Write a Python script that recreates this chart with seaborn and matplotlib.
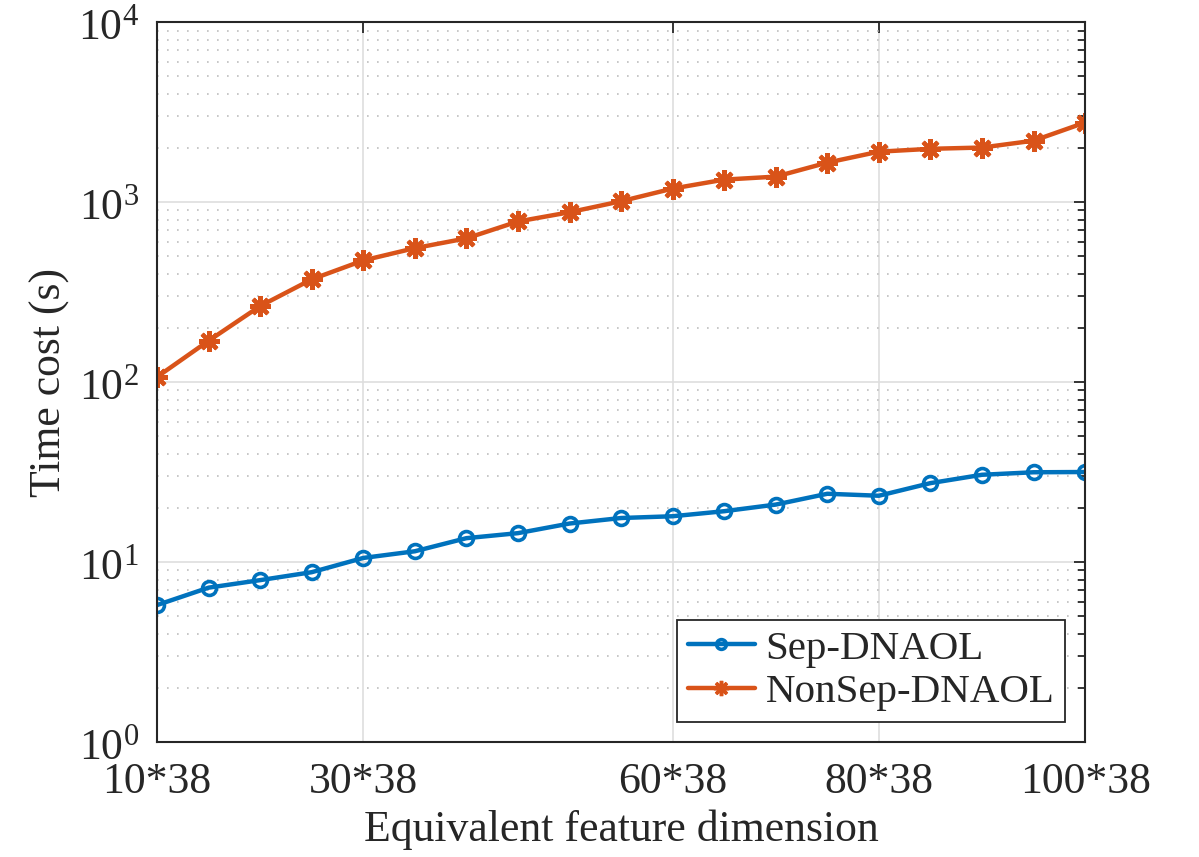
import numpy as np
import pandas as pd
import seaborn as sns
import matplotlib
matplotlib.use("Agg")
import matplotlib.pyplot as plt
import matplotlib.transforms as mtransforms
from matplotlib.ticker import LogLocator, NullFormatter, FixedLocator

# Data
dims = [10, 15, 20, 25, 30, 35, 40, 45, 50, 55, 60, 65, 70, 75, 80, 85, 90, 95, 100]
sep_time = [5.78, 7.22, 7.95, 8.8, 10.56, 11.5, 13.6, 14.5, 16.4, 17.6,
             18.0, 19.2, 20.9, 24.0, 23.4, 27.5, 30.6, 31.6, 31.7]
nonsep_time = [107, 170, 265, 373, 475, 556, 630, 782, 880, 1013,
               1191, 1336, 1388, 1660, 1910, 1981, 2014, 2198, 2773]
xtick_vals = [10, 30, 60, 80, 100]
xtick_labels = ["10*38", "30*38", "60*38", "80*38", "100*38"]

df = pd.DataFrame({
    "dim": dims * 2,
    "time": sep_time + nonsep_time,
    "method": ["Sep-DNAOL"] * len(dims) + ["NonSep-DNAOL"] * len(dims),
})

sns.set_theme(style="white")
plt.rcParams["font.family"] = ["Liberation Serif", "DejaVu Serif"]
plt.rcParams["mathtext.fontset"] = "custom"
plt.rcParams["mathtext.rm"] = "Liberation Serif"

FS = 31.5

fig = plt.figure(figsize=(11.99, 8.57), dpi=100)
ax = fig.add_axes([0.131, 0.134, 0.774, 0.840])

colors = {"Sep-DNAOL": "#0072BD", "NonSep-DNAOL": "#D95319"}
asterisk = (8, 2, 0)
sns.lineplot(data=df[df["method"] == "Sep-DNAOL"], x="dim", y="time",
             color=colors["Sep-DNAOL"], marker="o", markersize=10,
             markerfacecolor="none", markeredgewidth=2.6,
             markeredgecolor=colors["Sep-DNAOL"], linewidth=3.2,
             label="Sep-DNAOL", ax=ax)
sns.lineplot(data=df[df["method"] == "NonSep-DNAOL"], x="dim", y="time",
             color=colors["NonSep-DNAOL"], marker=asterisk, markersize=15,
             markeredgewidth=3, markeredgecolor=colors["NonSep-DNAOL"],
             linewidth=3.2, label="NonSep-DNAOL", ax=ax)

ax.set_yscale("log")
ax.set_ylim(1, 1e4)
ax.set_xlim(10, 100)
ax.xaxis.set_major_locator(FixedLocator(xtick_vals))
ax.set_xticklabels(xtick_labels)
ax.yaxis.set_major_locator(LogLocator(base=10, numticks=10))
ax.yaxis.set_minor_locator(LogLocator(base=10, subs=np.arange(2, 10), numticks=20))
ax.yaxis.set_minor_formatter(NullFormatter())

ax.grid(True, which="major", axis="both", color="#dedede", linewidth=1.2, linestyle="-")
ax.grid(True, which="minor", axis="y", color="#bdbdbd", linewidth=1.2,
        linestyle=(0, (1, 5)))
ax.set_axisbelow(True)

for s in ax.spines.values():
    s.set_color("#262626")
    s.set_linewidth(1.5)

ax.tick_params(axis="both", which="both", direction="in", top=True, right=True,
               colors="#262626", labelsize=FS, labelcolor="#262626")
ax.tick_params(axis="x", which="major", length=8, width=1.3, pad=14)
ax.tick_params(axis="y", which="major", length=8, width=1.3, pad=13)
ax.tick_params(axis="y", which="minor", length=5, width=1.3)

# nudge y tick labels down a little (MATLAB-style baseline)
offset = mtransforms.ScaledTranslation(0, -2 / 100, fig.dpi_scale_trans)
for lbl in ax.get_yticklabels():
    lbl.set_transform(lbl.get_transform() + offset)

ax.set_xlabel("Equivalent feature dimension", fontsize=FS, color="#262626", labelpad=6)
ax.set_ylabel("Time cost (s)", fontsize=FS, color="#262626", labelpad=6)

leg = ax.legend(loc="lower right", fontsize=29.5, frameon=True, fancybox=False,
                edgecolor="#262626", framealpha=1, borderpad=0.25,
                handlelength=1.65, handletextpad=0.25, labelspacing=0.15,
                borderaxespad=0.5)
leg.get_frame().set_linewidth(1.3)
lines = leg.get_lines()
lines[0].set_markersize(7)
lines[1].set_marker(asterisk)
lines[1].set_markersize(11)
lines[1].set_markeredgewidth(2.5)

fig.savefig("out.png", dpi=100)
